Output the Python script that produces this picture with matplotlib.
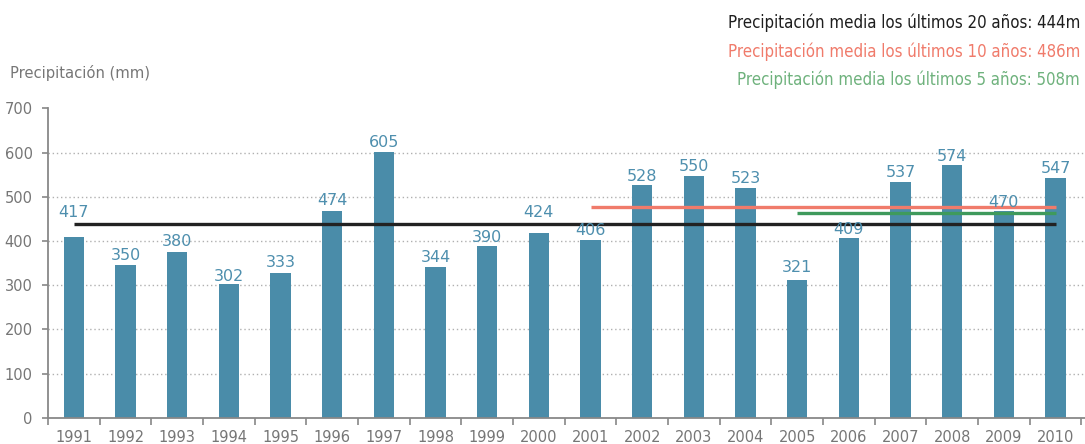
import matplotlib.pyplot as plt
import numpy as np

years = [str(y) for y in range(1991, 2011)]
# bar heights as drawn
heights = [409, 345, 375, 302, 327, 469, 601, 341, 389, 418,
           402, 527, 547, 520, 312, 407, 533, 572, 468, 543]
# values printed above the bars
labels = [417, 350, 380, 302, 333, 474, 605, 344, 390, 424,
          406, 528, 550, 523, 321, 409, 537, 574, 470, 547]

# mean lines as drawn
mean20 = 439
mean10 = 476
mean5 = 464
txt20 = 'Precipitación media los últimos 20 años: 444m'
txt10 = 'Precipitación media los últimos 10 años: 486m'
txt5 = 'Precipitación media los últimos 5 años: 508m'

bar_col = '#4a8ca9'
lab_col = '#4e8fae'
grey = '#767676'
red = '#f07b6b'
green = '#3f9a5c'
narrow = ['DejaVu Sans']

fig = plt.figure(figsize=(10.85, 4.44), dpi=100)
ax = fig.add_axes([48 / 1085, 26.3 / 444, 1 - 48 / 1085, 309.2 / 444])

x = np.arange(len(years))
ax.bar(x, heights, width=0.39, color=bar_col, zorder=2)

for v in range(100, 700, 100):
    ax.axhline(v, color='#b0b0b0', lw=1, ls=(0, (1, 2)), zorder=1)

ax.hlines(mean20, 0, 19, color='#222222', lw=2.4, zorder=3)
ax.hlines(mean10, 10, 19, color=red, lw=2.4, zorder=3)
ax.hlines(mean5, 14, 19, color=green, lw=2.4, zorder=3)

for i, v in enumerate(labels):
    # labels that would sit on the 20-year line go above it
    if abs(v - mean20) < 30:
        ax.annotate(str(v), (i, mean20), xytext=(0, 11), textcoords='offset pixels',
                    ha='center', va='center', color=lab_col, fontsize=11.5)
    else:
        ax.annotate(str(v), (i, v), xytext=(0, 8), textcoords='offset pixels',
                    ha='center', va='center', color=lab_col, fontsize=11.5)

ax.set_xlim(-0.5, 19.57)
ax.set_ylim(0, 700)
ax.set_yticks(range(0, 800, 100))
ax.set_xticks(x)
ax.set_xticklabels(years)
ax.set_xticks(np.arange(-0.5, 20, 1), minor=True)
ax.tick_params(axis='x', which='major', length=0, pad=8.5, labelsize=10.5, labelcolor=grey)
ax.tick_params(axis='x', which='minor', length=5, width=1.2, color='#888888', direction='out')
ax.tick_params(axis='y', length=4, width=1.2, color='#888888', pad=7, labelsize=10.5,
               labelcolor=grey)

for s in ['top', 'right']:
    ax.spines[s].set_visible(False)
for s in ['left', 'bottom']:
    ax.spines[s].set_color('#888888')
    ax.spines[s].set_linewidth(1.3)

fig.text(10 / 1085, 1 - 73 / 444, 'Precipitación (mm)', ha='left', va='center',
         color=grey, fontsize=11.8, family=narrow, fontstretch='condensed')
fig.text(1080 / 1085, 1 - 22.7 / 444, txt20, ha='right', va='center',
         color='#1e1e1e', fontsize=12.1, family=narrow, fontstretch='condensed')
fig.text(1080 / 1085, 1 - 51.7 / 444, txt10, ha='right', va='center',
         color=red, fontsize=12.1, family=narrow, fontstretch='condensed')
fig.text(1080 / 1085, 1 - 80 / 444, txt5, ha='right', va='center',
         color='#6fb27d', fontsize=12.1, family=narrow, fontstretch='condensed')

fig.savefig('out.png', dpi=100)
